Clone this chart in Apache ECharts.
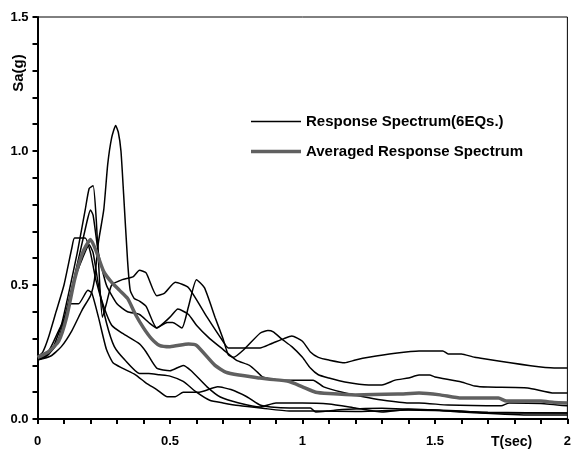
<!DOCTYPE html>
<html>
<head>
<meta charset="utf-8">
<script src="https://cdn.jsdelivr.net/npm/echarts@6/dist/echarts.min.js"></script>
<style>html,body{margin:0;padding:0;background:#fff}#c{width:574px;height:453px}</style>
</head>
<body>
<div id="c"></div>
<script>
// Period T (sec), Sa (g) pairs
const eq1 = [[0,0.22],[0.03,0.235],[0.06,0.27],[0.09,0.35],[0.12,0.48],[0.15,0.62],[0.18,0.78],[0.195,0.86],[0.21,0.87],[0.222,0.74],[0.235,0.5],[0.245,0.38],[0.26,0.43],[0.28,0.5],[0.32,0.52],[0.36,0.53],[0.385,0.555],[0.41,0.545],[0.45,0.46],[0.48,0.47],[0.52,0.51],[0.57,0.49],[0.64,0.38],[0.70,0.29],[0.72,0.265],[0.84,0.265],[0.88,0.28],[0.93,0.30],[0.96,0.31],[1.0,0.29],[1.03,0.25],[1.06,0.23],[1.1,0.22],[1.16,0.21],[1.2,0.22],[1.25,0.23],[1.35,0.245],[1.44,0.254],[1.53,0.254],[1.55,0.243],[1.6,0.243],[1.65,0.23],[1.95,0.19],[2.0,0.19]];
const eq2 = [[0,0.22],[0.05,0.235],[0.09,0.27],[0.13,0.33],[0.17,0.41],[0.2,0.46],[0.215,0.52],[0.23,0.66],[0.25,0.78],[0.265,0.95],[0.28,1.05],[0.295,1.095],[0.305,1.07],[0.315,1.0],[0.325,0.84],[0.34,0.59],[0.35,0.48],[0.365,0.45],[0.385,0.44],[0.41,0.42],[0.45,0.34],[0.49,0.36],[0.51,0.36],[0.545,0.34],[0.57,0.42],[0.6,0.52],[0.63,0.49],[0.67,0.38],[0.7,0.3],[0.72,0.24],[0.74,0.23],[0.78,0.26],[0.84,0.32],[0.87,0.33],[0.89,0.325],[0.92,0.3],[0.96,0.27],[1.0,0.23],[1.03,0.19],[1.06,0.165],[1.1,0.153],[1.16,0.138],[1.25,0.127],[1.3,0.127],[1.35,0.145],[1.4,0.153],[1.44,0.164],[1.48,0.164],[1.5,0.157],[1.6,0.138],[1.65,0.123],[1.7,0.119],[1.85,0.116],[1.95,0.097],[2.0,0.097]];
const eq3 = [[0,0.22],[0.04,0.24],[0.08,0.3],[0.12,0.45],[0.16,0.62],[0.19,0.75],[0.2,0.78],[0.21,0.76],[0.23,0.62],[0.26,0.5],[0.3,0.43],[0.34,0.40],[0.385,0.39],[0.42,0.36],[0.45,0.34],[0.5,0.38],[0.53,0.41],[0.57,0.39],[0.6,0.35],[0.65,0.3],[0.7,0.26],[0.75,0.22],[0.8,0.2],[0.83,0.175],[0.85,0.157],[0.92,0.145],[1.04,0.145],[1.08,0.12],[1.15,0.10],[1.23,0.083],[1.3,0.071],[1.4,0.06],[1.44,0.06],[1.55,0.052],[1.75,0.049],[1.78,0.06],[1.9,0.058],[2.0,0.049]];
const eq4 = [[0,0.23],[0.02,0.25],[0.04,0.3],[0.07,0.4],[0.1,0.5],[0.13,0.64],[0.14,0.675],[0.18,0.675],[0.2,0.62],[0.22,0.52],[0.25,0.42],[0.28,0.35],[0.32,0.32],[0.385,0.28],[0.41,0.25],[0.45,0.19],[0.5,0.18],[0.55,0.2],[0.58,0.18],[0.64,0.12],[0.69,0.082],[0.76,0.06],[0.84,0.045],[0.9,0.06],[1.0,0.06],[1.1,0.056],[1.2,0.041],[1.3,0.026],[1.4,0.035],[1.5,0.034],[1.6,0.03],[1.7,0.022],[2.0,0.022]];
const eq5 = [[0,0.22],[0.04,0.24],[0.08,0.29],[0.11,0.4],[0.14,0.52],[0.17,0.6],[0.195,0.65],[0.21,0.62],[0.23,0.5],[0.26,0.36],[0.29,0.27],[0.33,0.22],[0.385,0.17],[0.42,0.17],[0.46,0.165],[0.5,0.16],[0.55,0.14],[0.6,0.1],[0.65,0.07],[0.7,0.06],[0.76,0.05],[0.85,0.04],[0.95,0.03],[1.05,0.03],[1.2,0.028],[1.4,0.034],[1.5,0.032],[1.7,0.025],[2.0,0.022]];
const eq6 = [[0,0.23],[0.04,0.25],[0.08,0.33],[0.1,0.37],[0.125,0.43],[0.155,0.43],[0.19,0.48],[0.205,0.47],[0.23,0.38],[0.26,0.26],[0.285,0.21],[0.32,0.19],[0.37,0.165],[0.41,0.134],[0.45,0.11],[0.49,0.083],[0.52,0.083],[0.55,0.1],[0.61,0.1],[0.68,0.12],[0.73,0.11],[0.79,0.083],[0.84,0.052],[0.88,0.045],[0.95,0.041],[1.03,0.041],[1.05,0.026],[1.1,0.03],[1.15,0.035],[1.3,0.04],[1.4,0.037],[1.5,0.034],[1.6,0.026],[1.85,0.015],[2.0,0.015]];
const averaged = [[0,0.23],[0.04,0.25],[0.08,0.29],[0.11,0.38],[0.14,0.52],[0.17,0.62],[0.2,0.67],[0.22,0.63],[0.25,0.55],[0.28,0.51],[0.31,0.48],[0.34,0.45],[0.37,0.39],[0.4,0.34],[0.43,0.3],[0.46,0.275],[0.5,0.27],[0.57,0.28],[0.6,0.275],[0.67,0.2],[0.71,0.175],[0.76,0.164],[0.84,0.153],[0.87,0.149],[0.95,0.14],[1.0,0.12],[1.05,0.10],[1.1,0.095],[1.2,0.09],[1.36,0.093],[1.44,0.097],[1.52,0.09],[1.6,0.078],[1.74,0.078],[1.77,0.067],[1.9,0.067],[1.95,0.062],[2.0,0.06]];
const eqSeries = [eq1, eq2, eq3, eq4, eq5, eq6];
const nameEQ = 'Response Spectrum(6EQs.)';
const nameAvg = 'Averaged Response Spectrum';
const xTickLabels = {0:'0',5:'0.5',10:'1',15:'1.5',20:'2'};
const yTickLabels = {0:'0.0',5:'0.5',10:'1.0',15:'1.5'};

const FONT = '"Liberation Sans", Arial, sans-serif';
const chart = echarts.init(document.getElementById('c'), null, {renderer:'canvas'});
const series = eqSeries.map(d => ({
  name: nameEQ, type: 'line', data: d, symbol: 'none', smooth: 0.18,
  lineStyle: {color: '#000', width: 1.5}, itemStyle: {color: '#000'}, z: 2
}));
series.push({
  name: nameAvg, type: 'line', data: averaged, symbol: 'none', smooth: 0.18,
  lineStyle: {color: '#606060', width: 3.5}, itemStyle: {color: '#606060'}, z: 3
});
const legendText = {fontFamily: FONT, fontWeight: 'bold', fontSize: 15, color: '#000'};
chart.setOption({
  animation: false,
  backgroundColor: '#fff',
  grid: {left: 37.5, right: 5.5, top: 17, bottom: 34, show: true, borderColor: '#000', borderWidth: 1, backgroundColor: 'transparent'},
  legend: [
    {left: 251, top: 114, padding: 0, icon: 'rect', itemWidth: 50, itemHeight: 1.6, data: [nameEQ], textStyle: legendText},
    {left: 251, top: 144, padding: 0, icon: 'rect', itemWidth: 50, itemHeight: 3.6, data: [nameAvg], textStyle: legendText}
  ],
  xAxis: {
    type: 'value', min: 0, max: 2, interval: 0.1,
    axisLine: {lineStyle: {color: '#000', width: 2}},
    axisTick: {show: true, length: 5, inside: false, lineStyle: {color: '#000', width: 2}},
    splitLine: {show: false},
    axisLabel: {
      fontFamily: FONT, fontWeight: 'bold', fontSize: 13, color: '#000', margin: 16,
      formatter: v => { const k = Math.round(v * 10); return xTickLabels[k] !== undefined ? xTickLabels[k] : ''; }
    }
  },
  yAxis: {
    type: 'value', min: 0, max: 1.5, interval: 0.1,
    axisLine: {lineStyle: {color: '#000', width: 2}},
    axisTick: {show: true, length: 5, inside: false, lineStyle: {color: '#000', width: 2}},
    splitLine: {show: false},
    axisLabel: {
      fontFamily: FONT, fontWeight: 'bold', fontSize: 13, color: '#000', margin: 9,
      formatter: v => { const k = Math.round(v * 10); return yTickLabels[k] !== undefined ? yTickLabels[k] : ''; }
    }
  },
  graphic: [
    {type: 'text', left: 491, top: 435, style: {text: 'T(sec)', font: 'bold 14px ' + FONT, fill: '#000'}},
    {type: 'text', x: 19, y: 73, rotation: Math.PI / 2, style: {text: 'Sa(g)', font: 'bold 15px ' + FONT, fill: '#000', textAlign: 'center', textVerticalAlign: 'middle'}}
  ],
  series: series
});
</script>
</body>
</html>
